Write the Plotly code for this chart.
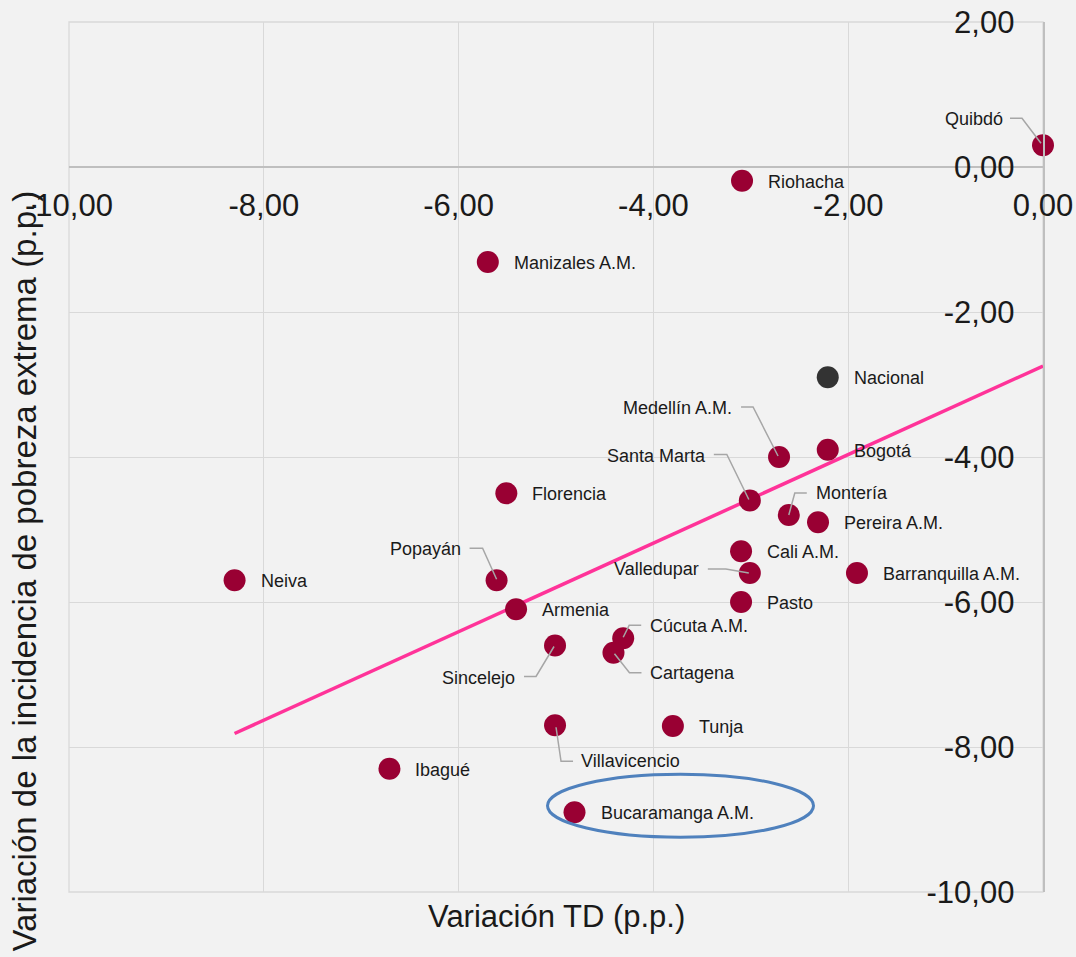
import numpy as np
import plotly.graph_objects as go

# ---------------- data ----------------
cities = ["Quibdó", "Riohacha", "Manizales A.M.", "Medellín A.M.", "Bogotá",
          "Santa Marta", "Montería", "Pereira A.M.", "Florencia", "Cali A.M.",
          "Valledupar", "Barranquilla A.M.", "Popayán", "Neiva", "Pasto",
          "Armenia", "Cúcuta A.M.", "Cartagena", "Sincelejo", "Villavicencio",
          "Tunja", "Ibagué", "Bucaramanga A.M."]
td_var = [0.00, -3.09, -5.70, -2.71, -2.21,
          -3.01, -2.61, -2.31, -5.51, -3.10,
          -3.01, -1.91, -5.61, -8.30, -3.10,
          -5.41, -4.31, -4.41, -5.01, -5.01,
          -3.80, -6.71, -4.81]
pob_var = [0.30, -0.19, -1.31, -4.00, -3.90,
           -4.60, -4.80, -4.90, -4.50, -5.30,
           -5.60, -5.60, -5.70, -5.70, -6.00,
           -6.10, -6.50, -6.70, -6.60, -7.70,
           -7.71, -8.30, -8.90]
nacional_name = ["Nacional"]
nacional_td = [-2.21]
nacional_pob = [-2.90]

x_ticks = [-10, -8, -6, -4, -2, 0]
x_ticktext = ["-10,00", "-8,00", "-6,00", "-4,00", "-2,00", "0,00"]
y_ticks = [2, 0, -2, -4, -6, -8, -10]
y_ticktext = ["2,00", "0,00", "-2,00", "-4,00", "-6,00", "-8,00", "-10,00"]

x_title = "Variación TD (p.p.)"
y_title = "Variación de la incidencia de pobreza extrema (p.p.)"
highlight = "Bucaramanga A.M."

# ---------------- styles ----------------
FONT = "Arial, 'Liberation Sans', sans-serif"
BG = "#f2f2f2"
GRID = "#d9d9d9"
AXIS = "#bfbfbf"
MARKER = "#990033"
NAC_COLOR = "#333333"
TREND = "#ff3399"
LEADER = "#a6a6a6"
TXT = "#1a1a1a"

# label placement: anchor side, pixel offset (dx, dy screen-down), leader polyline offsets
custom_labels = {
    "Quibdó": ("right", -38, -26, [(-33, -27), (-21, -27), (-2, -2)]),
    "Medellín A.M.": ("right", -45, -49, [(-38, -50), (-26, -50), (-1, -1)]),
    "Santa Marta": ("right", -42, -45, [(-36, -46), (-23, -46), (-1, -1)]),
    "Montería": ("left", 25, -22, [(18, -22), (6, -22), (0, 0)]),
    "Valledupar": ("right", -49, -4, [(-42, -4), (-24, -4), (-1, 0)]),
    "Popayán": ("right", -34, -31, [(-27, -32), (-14, -32), (0, -1)]),
    "Cúcuta A.M.": ("left", 25, -12, [(18, -13), (6, -13), (0, -1)]),
    "Cartagena": ("left", 35, 20, [(28, 20), (16, 20), (1, 1)]),
    "Sincelejo": ("right", -38, 32, [(-31, 31), (-19, 31), (-1, 1)]),
    "Villavicencio": ("left", 24, 36, [(18, 36), (6, 36), (1, 2)]),
}

fig = go.Figure()

# trend line (linear least squares over all points, including Nacional)
all_x = np.array(td_var + nacional_td)
all_y = np.array(pob_var + nacional_pob)
slope, intercept = np.polyfit(all_x, all_y, 1)
tx = np.array([all_x.min(), all_x.max()])
fig.add_trace(go.Scatter(x=tx, y=slope * tx + intercept, mode="lines",
                         line=dict(color=TREND, width=3.5), hoverinfo="skip",
                         cliponaxis=False, showlegend=False))

fig.add_trace(go.Scatter(x=td_var, y=pob_var, mode="markers", text=cities,
                         marker=dict(size=22, color=MARKER, line=dict(width=0)),
                         cliponaxis=False, showlegend=False))
fig.add_trace(go.Scatter(x=nacional_td, y=nacional_pob, mode="markers", text=nacional_name,
                         marker=dict(size=22, color=NAC_COLOR, line=dict(width=0)),
                         cliponaxis=False, showlegend=False))

annotations = []
# plot-area border (gridline colour), drawn below data
shapes = [dict(type="rect", xref="paper", yref="paper", x0=0, x1=1, y0=0, y1=1,
               line=dict(color=GRID, width=1.3), layer="below")]

def add_label(name, x, y):
    if name in custom_labels:
        side, dx, dy, leader = custom_labels[name]
        path = "M " + " L ".join(f"{px},{-py}" for px, py in leader)
        shapes.append(dict(type="path", xref="x", yref="y", xsizemode="pixel",
                           ysizemode="pixel", xanchor=x, yanchor=y, path=path,
                           line=dict(color=LEADER, width=1.5), layer="above"))
    else:
        side, dx, dy = "left", 24, 1
    annotations.append(dict(x=x, y=y, xref="x", yref="y", text=name, showarrow=False,
                            xanchor=side, yanchor="middle", xshift=dx, yshift=-dy,
                            font=dict(family=FONT, size=18, color=TXT)))

for n, xv, yv in zip(cities, td_var, pob_var):
    add_label(n, xv, yv)
for n, xv, yv in zip(nacional_name, nacional_td, nacional_pob):
    add_label(n, xv, yv)

# highlight ellipse around Bucaramanga
hi = cities.index(highlight)
shapes.append(dict(type="circle", xref="x", yref="y", xsizemode="pixel", ysizemode="pixel",
                   xanchor=td_var[hi], yanchor=pob_var[hi], x0=-27, x1=239, y0=-25, y1=38,
                   line=dict(color="#4f81bd", width=3), layer="above"))

# axis titles
annotations.append(dict(x=0.5, y=-0.0276, xref="paper", yref="paper", text=x_title,
                        showarrow=False, xanchor="center", yanchor="middle",
                        font=dict(family=FONT, size=31, color=TXT)))
annotations.append(dict(x=-0.0462, y=0.3684, xref="paper", yref="paper", text=y_title,
                        showarrow=False, textangle=-90, xanchor="center", yanchor="middle",
                        font=dict(family=FONT, size=33, color=TXT)))

fig.update_layout(
    width=1076, height=957,
    margin=dict(l=69, r=33, t=22, b=65, autoexpand=False),
    paper_bgcolor=BG, plot_bgcolor=BG,
    font=dict(family=FONT, color=TXT),
    annotations=annotations, shapes=shapes,
    hovermode="closest",
    xaxis=dict(range=[-10, 0], tickvals=x_ticks, ticktext=x_ticktext,
               anchor="free", position=10 / 12, side="bottom", automargin=False,
               showgrid=True, gridcolor=GRID, gridwidth=1.3,
               zeroline=False, showline=True, linecolor=AXIS, linewidth=1.5,
               ticks="", ticklabelstandoff=11,
               tickfont=dict(family=FONT, size=31, color=TXT)),
    yaxis=dict(range=[-10, 2], tickvals=y_ticks, ticktext=y_ticktext,
               side="right", ticklabelposition="inside", ticklabeloverflow="allow",
               automargin=False,
               showgrid=True, gridcolor=GRID, gridwidth=1.3,
               zeroline=False, showline=True, linecolor=AXIS, linewidth=1.5,
               ticks="", ticklabelstandoff=32,
               tickfont=dict(family=FONT, size=31, color=TXT)),
)

fig.write_html("out.html", config={"displayModeBar": False},
               post_script="document.body.style.margin='0';")
